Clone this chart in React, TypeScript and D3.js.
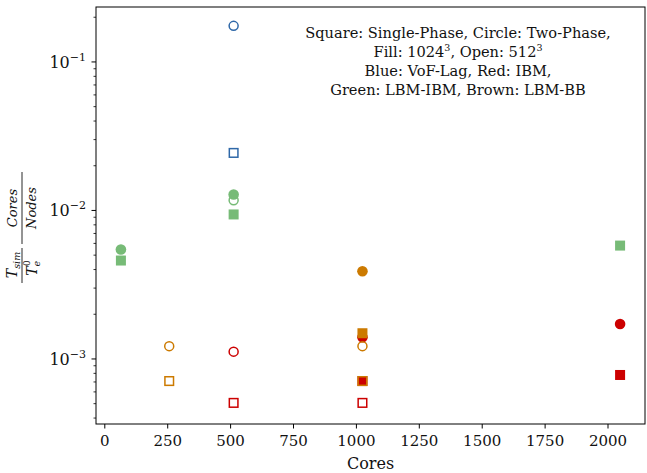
import React from "react";
import * as d3 from "d3";

type P = [number, number];

// VoF-Lag (blue)
const blueSqOpen: P[] = [[512, 0.0244]];
const blueCirOpen: P[] = [[512, 0.175]];
// IBM (red)
const redSqOpen: P[] = [[512, 0.000506], [1024, 0.000506]];
const redSqFill: P[] = [[1024, 0.00071], [2048, 0.00078]];
const redCirOpen: P[] = [[512, 0.00112]];
const redCirFill: P[] = [[1024, 0.0014], [2048, 0.00172]];
// LBM-IBM (green)
const greenSqFill: P[] = [[64, 0.0046], [512, 0.0094], [2048, 0.0058]];
const greenCirFill: P[] = [[64, 0.00546], [512, 0.0128]];
const greenCirOpen: P[] = [[512, 0.0117]];
// LBM-BB (brown)
const brownSqOpen: P[] = [[256, 0.00071], [1024, 0.00071]];
const brownSqFill: P[] = [[1024, 0.00149]];
const brownCirOpen: P[] = [[256, 0.00122], [1024, 0.00122]];
const brownCirFill: P[] = [[1024, 0.0039]];

const xTicks = [0, 250, 500, 750, 1000, 1250, 1500, 1750, 2000];
const yMajor = [-3, -2, -1];

const legendLines = [
  "Square: Single-Phase, Circle: Two-Phase,",
  "Fill: 1024|3|, Open: 512|3|",
  "Blue: VoF-Lag, Red: IBM,",
  "Green: LBM-IBM, Brown: LBM-BB",
];

const BLUE = "#2f68a8";
const RED = "#cc0000";
const GREEN = "#77bb77";
const BROWN = "#cc7a00";

const W = 647;
const H = 473;
const L = 96, R = 645, T = 7, B = 424;
const FONT = "'DejaVu Serif', serif";

export default function App() {
  const x = d3.scaleLinear().domain([-35, 2147]).range([L, R]);
  const y = d3.scaleLog().domain([10 ** -3.438, 10 ** -0.63]).range([B, T]);

  const minor: number[] = [];
  for (let e = -4; e <= 0; e++) {
    for (let m = 2; m <= 9; m++) {
      const v = m * 10 ** e;
      if (v >= y.domain()[0] && v <= y.domain()[1]) minor.push(v);
    }
  }

  const sq = (pts: P[], color: string, filled: boolean, key: string) =>
    pts.map((p, i) => {
      const s = filled ? 10 : 8.6;
      return (
        <rect
          key={key + i}
          x={x(p[0]) - s / 2}
          y={y(p[1]) - s / 2}
          width={s}
          height={s}
          fill={filled ? color : "none"}
          stroke={filled ? "none" : color}
          strokeWidth={1.5}
        />
      );
    });
  const cir = (pts: P[], color: string, filled: boolean, key: string) =>
    pts.map((p, i) => (
      <circle
        key={key + i}
        cx={x(p[0])}
        cy={y(p[1])}
        r={filled ? 5.3 : 4.5}
        fill={filled ? color : "none"}
        stroke={filled ? "none" : color}
        strokeWidth={1.5}
      />
    ));

  const renderLegend = (s: string, i: number) => {
    const parts = s.split("|");
    return (
      <text key={i} x={458} y={38 + i * 19} textAnchor="middle" fontSize={14.6} fontFamily={FONT} fill="#111">
        {parts.map((pt, j) =>
          j % 2 === 1 ? (
            <tspan key={j} fontSize={9.5} dy={-6}>{pt}</tspan>
          ) : (
            <tspan key={j} dy={j > 0 ? 6 : 0}>{pt}</tspan>
          )
        )}
      </text>
    );
  };

  return (
    <svg width={W} height={H} style={{ position: "absolute", left: 0, top: 0, background: "#fff" }}>
      <rect x={0} y={0} width={W} height={H} fill="#fff" />
      <g>
        {sq(blueSqOpen, BLUE, false, "bso")}
        {cir(blueCirOpen, BLUE, false, "bco")}
        {sq(redSqOpen, RED, false, "rso")}
        {sq(redSqFill, RED, true, "rsf")}
        {cir(redCirOpen, RED, false, "rco")}
        {cir(redCirFill, RED, true, "rcf")}
        {sq(greenSqFill, GREEN, true, "gsf")}
        {cir(greenCirOpen, GREEN, false, "gco")}
        {cir(greenCirFill, GREEN, true, "gcf")}
        {sq(brownSqOpen, BROWN, false, "wso")}
        {sq(brownSqFill, BROWN, true, "wsf")}
        {cir(brownCirOpen, BROWN, false, "wco")}
        {cir(brownCirFill, BROWN, true, "wcf")}
      </g>
      <rect x={L} y={T} width={R - L} height={B - T} fill="none" stroke="#000" strokeWidth={1} />
      {xTicks.map((t) => (
        <g key={t}>
          <line x1={x(t)} x2={x(t)} y1={B} y2={B + 4.5} stroke="#000" strokeWidth={1} />
          <text x={x(t)} y={B + 22} textAnchor="middle" fontSize={15} fontFamily={FONT} fill="#111">
            {t}
          </text>
        </g>
      ))}
      {minor.map((v) => (
        <line key={v} x1={L - 2.5} x2={L} y1={y(v)} y2={y(v)} stroke="#000" strokeWidth={0.8} />
      ))}
      {yMajor.map((e) => (
        <g key={e}>
          <line x1={L - 4.5} x2={L} y1={y(10 ** e)} y2={y(10 ** e)} stroke="#000" strokeWidth={1} />
          <text x={L - 10} y={y(10 ** e) + 6} textAnchor="end" fontSize={16} fontFamily={FONT} fill="#111">
            10
            <tspan fontSize={11} dy={-7}>{"\u2212" + Math.abs(e)}</tspan>
          </text>
        </g>
      ))}
      <text x={(L + R) / 2} y={469} textAnchor="middle" fontSize={16} fontFamily={FONT} fill="#111">
        Cores
      </text>
      <g transform="translate(22,228) rotate(-90)" fontFamily={FONT} fill="#111" fontStyle="italic">
        {/* first fraction */}
        <text x={-37} y={-5} textAnchor="middle" fontSize={14}>
          T<tspan fontSize={9.5} dy={3}>sim</tspan>
        </text>
        <line x1={-55} x2={-20} y1={0} y2={0} stroke="#111" strokeWidth={0.9} />
        <text x={-40} y={15} textAnchor="middle" fontSize={14}>
          T<tspan fontSize={9.5} dy={3}>e</tspan>
          <tspan fontSize={9} dx={-5} dy={-10} fontStyle="normal">0</tspan>
        </text>
        {/* second fraction */}
        <text x={20} y={-5} textAnchor="middle" fontSize={13}>Cores</text>
        <line x1={-16} x2={56} y1={0} y2={0} stroke="#111" strokeWidth={0.9} />
        <text x={20} y={14} textAnchor="middle" fontSize={13}>Nodes</text>
      </g>
      {legendLines.map(renderLegend)}
    </svg>
  );
}
